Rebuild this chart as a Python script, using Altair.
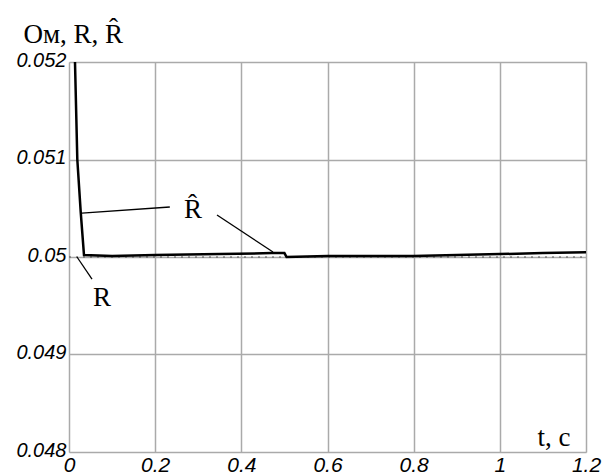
import altair as alt
import pandas as pd

# R-hat estimate curve
t_hat = [0.0139, 0.0193, 0.0272, 0.0348, 0.1, 0.2, 0.35, 0.47, 0.5, 0.505, 0.6, 0.8, 0.9, 1.0, 1.1, 1.2]
r_hat = [0.052, 0.051, 0.05046, 0.05002, 0.05001, 0.05002, 0.05003, 0.05004, 0.05004, 0.05,
         0.05001, 0.05001, 0.05002, 0.05003, 0.05004, 0.05005]
# true R
t_r = [0.0, 1.2]
r_true = [0.05, 0.05]

# annotation leaders (t, value)
lead_t = [0.030, 0.234, 0.3435, 0.4735, 0.0186, 0.0534]
lead_v = [0.050451, 0.050513, 0.050431, 0.050051, 0.05, 0.049774]
lead_id = ["a", "a", "b", "b", "c", "c"]
label_t = [0.288, 0.0766]
label_v = [0.05048, 0.04958]
label_txt = ["R\u0302", "R"]

x_ticks = [0, 0.2, 0.4, 0.6, 0.8, 1, 1.2]
y_ticks = [0.048, 0.049, 0.05, 0.051, 0.052]

df_hat = pd.DataFrame({"t": t_hat, "v": r_hat})
df_r = pd.DataFrame({"t": t_r, "v": r_true})
df_lead = pd.DataFrame({"t": lead_t, "v": lead_v, "id": lead_id})
df_lab = pd.DataFrame({"t": label_t, "v": label_v, "txt": label_txt})

xs = alt.Scale(domain=[0, 1.2], nice=False, zero=False)
ys = alt.Scale(domain=[0.048, 0.052], nice=False, zero=False)

xax = alt.Axis(values=x_ticks, format="~g", title="t, c", titleAngle=0,
               titleX=468, titleY=-7, titleAlign="left", titleBaseline="alphabetic",
               titleFont="Liberation Serif", titleFontSize=27, titleFontWeight="normal",
               titleColor="#000", labelFont="Liberation Sans", labelFontStyle="italic",
               labelFontSize=21, labelColor="#000", labelPadding=2, ticks=False,
               domain=False, gridColor="#aaaaaa", gridWidth=1.5, labelFlush=False,
               labelOverlap=False)
yax = alt.Axis(values=y_ticks, format="~g", title="Ом, R, R\u0302", titleAngle=0,
               titleX=-46, titleY=-20, titleAlign="left", titleBaseline="alphabetic",
               titleFont="Liberation Serif", titleFontSize=27, titleFontWeight="normal",
               titleColor="#000", labelFont="Liberation Sans", labelFontStyle="italic",
               labelFontSize=20, labelColor="#000", labelPadding=3, ticks=False,
               labelBaseline="middle", labelOffset=-2,
               domain=False, gridColor="#aaaaaa", gridWidth=1.5, labelFlush=False,
               labelOverlap=False)

r_line = alt.Chart(df_r).mark_line(color="#555", strokeWidth=1.2, strokeDash=[2, 5]).encode(
    x=alt.X("t:Q", scale=xs, axis=xax),
    y=alt.Y("v:Q", scale=ys, axis=yax),
)
hat_line = alt.Chart(df_hat).mark_line(color="#000", strokeWidth=2.5, clip=True).encode(
    x=alt.X("t:Q", scale=xs),
    y=alt.Y("v:Q", scale=ys),
)
leads = alt.Chart(df_lead).mark_line(color="#000", strokeWidth=1.3).encode(
    x=alt.X("t:Q", scale=xs),
    y=alt.Y("v:Q", scale=ys),
    detail="id:N",
)
labels = alt.Chart(df_lab).mark_text(font="Liberation Serif", fontSize=27, color="#000",
                                     align="center", baseline="middle").encode(
    x=alt.X("t:Q", scale=xs),
    y=alt.Y("v:Q", scale=ys),
    text="txt:N",
)

chart = alt.layer(r_line, hat_line, leads, labels).properties(
    width=517, height=390,
    padding={"left": 69, "top": 62, "right": 19, "bottom": 22},
    autosize=alt.AutoSizeParams(type="none"),
).configure_view(stroke="#999999", strokeWidth=1.5).configure(background="white")

chart.save("out.html", embed_options={"renderer": "svg", "actions": False})
